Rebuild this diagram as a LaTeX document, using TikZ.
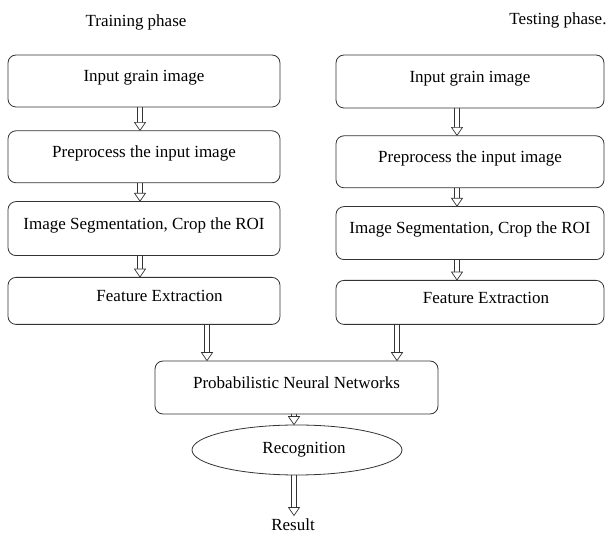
\documentclass[tikz,border=0pt]{standalone}
\usepackage{fontspec}
\setmainfont{Liberation Serif}
\newfontfamily\timesfont{Liberation Serif}
\usetikzlibrary{shapes, arrows.meta, positioning, decorations.markings}
\tikzset{
    every node/.style={font=\timesfont\fontsize{17}{20}\selectfont},
    phase box/.style={draw=black!80, line width=0.8pt, rounded corners=8pt,
      minimum width=272pt, minimum height=52pt, text depth=10pt},
    hollow/.style={
      preaction={draw=black!80, line width=0.7pt, shorten >=7.5pt, transform canvas={xshift=-2.2pt}},
      preaction={draw=black!80, line width=0.7pt, shorten >=7.5pt, transform canvas={xshift=2.2pt}},
      decoration={markings, mark=at position 1 with {
        \draw[black!80, line width=0.7pt, fill=white, line join=miter]
          (0pt,0pt) -- (-8pt,5.5pt) -- (-8pt,-5.5pt) -- cycle;}},
      postaction={decorate}}
}

\begin{document}
\begin{tikzpicture}[x=1pt, y=-1pt]
  \useasboundingbox (0,0) rectangle (606,534);

  \node (train) at (136,22) {Training phase};
  \node (test)  at (558,20) {Testing phase.};

  % training column
  \node[phase box] (L1) at (144,81) {Input grain image};
  \node[phase box, below=23pt of L1] (L2) {Preprocess the input image};
  \node[phase box, below=18pt of L2, minimum height=54pt] (L3) {Image Segmentation, Crop the ROI};
  \node[phase box, below=21pt of L3, minimum height=47pt] (L4) {\hspace*{31pt}Feature Extraction};

  % testing column
  \node[phase box, minimum width=268pt, minimum height=53pt] (R1) at (470,81.5) {Input grain image};
  \node[phase box, minimum width=268pt, below=27pt of R1] (R2) {Preprocess the input image};
  \node[phase box, minimum width=268pt, minimum height=53pt, below=18pt of R2] (R3) {Image Segmentation, Crop the ROI};
  \node[phase box, minimum width=268pt, minimum height=44pt, below=20pt of R3] (R4) {\hspace*{32pt}Feature Extraction};

  \foreach \a/\b in {L1/L2, L2/L3, L3/L4}
    \path[hollow] ([xshift=-4pt]\a.south) -- ([xshift=-4pt]\b.north);
  \foreach \a/\b in {R1/R2, R2/R3, R3/R4}
    \path[hollow] ([xshift=-13pt]\a.south) -- ([xshift=-13pt]\b.north);

  \node[phase box, minimum width=283pt, minimum height=53pt] (P) at (296.5,387.5) {Probabilistic Neural Networks};
  \node[draw=black!80, line width=0.8pt, ellipse, minimum width=210pt, minimum height=50pt] (E) at (297,450) {\hspace*{14pt}Recognition};
  \node (res) at (293,525) {Result};

  \path[hollow] ([xshift=63pt]L4.south) -- ([xshift=63pt]L4.south |- P.north);
  \path[hollow] ([xshift=-73pt]R4.south) -- ([xshift=-73pt]R4.south |- P.north);
  \path[hollow] ([xshift=-2.5pt]P.south) -- ([xshift=-2.5pt]P.south |- E.north);
  \path[hollow] ([xshift=-3pt]E.south) -- ([xshift=-3pt]E.south |- res.north);
\end{tikzpicture}
\end{document}
